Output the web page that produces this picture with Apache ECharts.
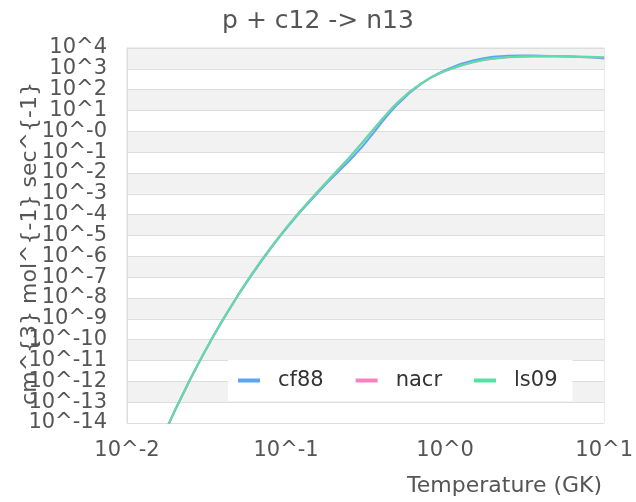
<!DOCTYPE html>
<html>
<head>
<meta charset="utf-8">
<script src="https://cdn.jsdelivr.net/npm/echarts@6/dist/echarts.min.js"></script>
<style>
  html, body { margin: 0; padding: 0; background: #fff; }
  #chart { width: 636px; height: 502px; }
</style>
</head>
<body>
<div id="chart"></div>
<script>
// temperatures in GK
const temps = [0.018, 0.02, 0.025, 0.03, 0.035, 0.04, 0.05, 0.06, 0.07, 0.08, 0.09, 0.1,
  0.12, 0.14, 0.16, 0.18, 0.2, 0.25, 0.3, 0.35, 0.4, 0.45, 0.5, 0.6, 0.7, 0.8, 0.9, 1,
  1.25, 1.5, 1.75, 2, 2.5, 3, 3.5, 4, 5, 6, 7, 8, 9, 10];

// log10 of the rate, cm^3 mol^-1 sec^-1
const cf88LogRate = [-14.17, -13.41, -11.90, -10.75, -9.83, -9.07, -7.87, -6.96, -6.23, -5.63, -5.12, -4.68,
  -3.96, -3.39, -2.91, -2.50, -2.15, -1.41, -0.76, -0.13, 0.43, 0.90, 1.28, 1.85, 2.25, 2.55, 2.77, 2.94,
  3.23, 3.40, 3.51, 3.58, 3.63, 3.64, 3.64, 3.63, 3.61, 3.60, 3.57, 3.55, 3.53, 3.50];
const nacrLogRate = [-14.16, -13.40, -11.89, -10.73, -9.80, -9.04, -7.84, -6.92, -6.19, -5.59, -5.08, -4.65,
  -3.92, -3.34, -2.85, -2.43, -2.06, -1.26, -0.57, 0.04, 0.56, 1.00, 1.36, 1.90, 2.27, 2.54, 2.74, 2.89,
  3.15, 3.31, 3.42, 3.48, 3.55, 3.58, 3.59, 3.59, 3.59, 3.58, 3.57, 3.56, 3.55, 3.54];
const ls09LogRate = [-14.15, -13.39, -11.88, -10.72, -9.80, -9.03, -7.84, -6.92, -6.19, -5.59, -5.08, -4.64,
  -3.92, -3.34, -2.85, -2.43, -2.05, -1.25, -0.56, 0.05, 0.57, 1.01, 1.37, 1.91, 2.28, 2.55, 2.75, 2.90,
  3.16, 3.33, 3.44, 3.50, 3.57, 3.59, 3.60, 3.60, 3.60, 3.60, 3.59, 3.58, 3.57, 3.56];

const xTickLabels = ['10^-2', '10^-1', '10^0', '10^1'];
const yTickLabels = ['10^-14', '10^-13', '10^-12', '10^-11', '10^-10', '10^-9', '10^-8', '10^-7',
  '10^-6', '10^-5', '10^-4', '10^-3', '10^-2', '10^-1', '10^-0', '10^1', '10^2', '10^3', '10^4'];

const seriesNames = ['cf88', 'nacr', 'ls09'];
const seriesColors = ['#5ba5f5', '#f583c3', '#58e0a5'];
const seriesData = [cf88LogRate, nacrLogRate, ls09LogRate];

const font = 'DejaVu Sans';
const textColor = '#555';

const chart = echarts.init(document.getElementById('chart'));

const option = {
  animation: false,
  textStyle: { fontFamily: font },
  title: {
    text: 'p + c12 -> n13',
    left: 'center',
    top: 4,
    textStyle: { fontFamily: font, fontSize: 25, fontWeight: 'normal', color: textColor }
  },
  legend: {
    data: seriesNames,
    left: 228,
    top: 360,
    icon: 'rect',
    itemWidth: 22,
    itemHeight: 4,
    itemGap: 32,
    padding: [10, 15, 10, 10],
    backgroundColor: '#fff',
    textStyle: { fontFamily: font, fontSize: 21, color: '#333', padding: [0, 0, 0, 13] }
  },
  grid: {
    left: 127,
    right: 30,
    top: 48,
    bottom: 79,
    show: true,
    borderColor: '#ddd',
    borderWidth: 1,
    backgroundColor: 'transparent'
  },
  xAxis: {
    type: 'log',
    logBase: 10,
    min: 0.01,
    max: 10,
    name: 'Temperature (GK)',
    nameLocation: 'middle',
    nameGap: 52,
    nameMoveOverlap: false,
    nameTextStyle: {
      fontFamily: font, fontSize: 22, color: textColor,
      padding: [0, 0, 0, 278]
    },
    axisLine: { show: true, lineStyle: { color: '#ddd' } },
    axisTick: { show: false },
    splitLine: { show: false },
    axisLabel: {
      fontFamily: font, fontSize: 21, color: textColor, margin: 17,
      formatter: function (v) {
        return xTickLabels[Math.round(Math.log10(v)) + 2];
      }
    }
  },
  yAxis: {
    type: 'value',
    min: -14,
    max: 4,
    interval: 1,
    name: 'cm^{3} mol^{-1} sec^{-1}',
    nameLocation: 'middle',
    nameGap: 86,
    nameMoveOverlap: false,
    nameTextStyle: { fontFamily: font, fontSize: 22, color: textColor, padding: [0, 16, 0, 0] },
    axisLine: { show: true, lineStyle: { color: '#ddd' } },
    axisTick: { show: false },
    splitLine: { show: true, lineStyle: { color: '#ddd', width: 1 } },
    splitArea: { show: true, areaStyle: { color: ['#ffffff', '#f2f2f2'] } },
    axisLabel: {
      fontFamily: font, fontSize: 21, color: textColor, margin: 20,
      formatter: function (v) {
        return yTickLabels[Math.round(v) + 14];
      }
    }
  },
  series: seriesNames.map(function (name, i) {
    return {
      name: name,
      type: 'line',
      symbol: 'none',
      clip: true,
      color: seriesColors[i],
      lineStyle: { width: 2, color: seriesColors[i] },
      data: temps.map(function (t, k) { return [t, seriesData[i][k]]; })
    };
  })
};

chart.setOption(option);
</script>
</body>
</html>
